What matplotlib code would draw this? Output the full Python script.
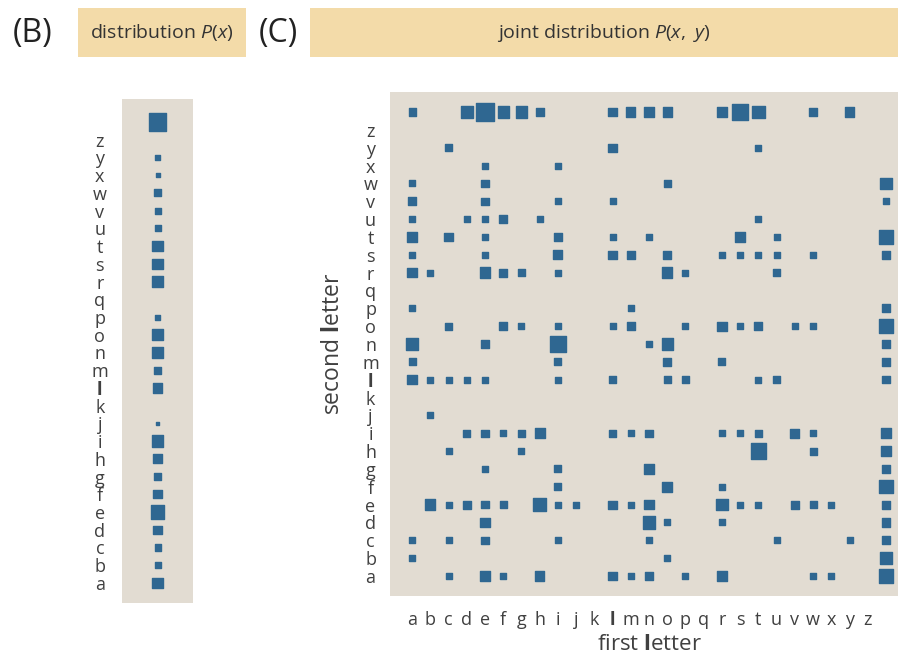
import numpy as np
import matplotlib
matplotlib.use("Agg")
import matplotlib.pyplot as plt
from matplotlib.patches import Rectangle

plt.rcParams['font.family'] = ['Open Sans', 'DejaVu Sans']
plt.rcParams['mathtext.fontset'] = 'custom'
plt.rcParams['mathtext.it'] = 'Open Sans:italic'
plt.rcParams['mathtext.rm'] = 'Open Sans'
plt.rcParams['mathtext.bf'] = 'Open Sans:bold'

# alphabet: a..z then the space character
ALPHABET = list("abcdefghijklmnopqrstuvwxyz") + [" "]
TICK_LETTERS = list("abcdefghijklmnopqrstuvwxyz")

# single letter frequencies, per 10,000 characters (same order as ALPHABET)
marginal_freq = [720, 291, 291, 482, 1166, 482, 381, 595, 857, 95, 0, 595, 381,
                 720, 857, 214, 0, 720, 720, 720, 291, 291, 381, 149, 214, 0, 1927]

# bigram frequencies, per 10,000 pairs; pair = first letter + second letter
bigram_pairs = [
    "a ", "d ", "e ", "f ", "g ", "h ", "l ", "m ", "n ", "o ", "r ", "s ", "t ", "w ", "y ",
    "cy", "ly", "ty",
    "ex", "ix",
    "aw", "ew", "ow", " w",
    "av", "ev", "iv", "lv", " v",
    "au", "du", "eu", "fu", "hu", "tu",
    "at", "ct", "et", "it", "lt", "nt", "st", "ut", " t",
    "as", "es", "is", "ls", "ms", "os", "rs", "ss", "ts", "us", "ws", " s",
    "ar", "br", "er", "fr", "gr", "ir", "or", "pr", "ur",
    "ap", "mp", " p",
    "co", "fo", "go", "io", "lo", "mo", "po", "ro", "so", "to", "vo", "wo", " o",
    "an", "en", "in", "nn", "on", " n",
    "am", "im", "om", "rm", " m",
    "al", "bl", "cl", "dl", "el", "il", "ll", "ol", "pl", "tl", "ul", " l",
    "bj",
    "di", "ei", "fi", "gi", "hi", "li", "mi", "ni", "ri", "si", "ti", "vi", "wi", " i",
    "ch", "gh", "th", "wh", " h",
    "eg", "ig", "ng", " g",
    "if", "of", "rf", " f",
    "be", "ce", "de", "ee", "fe", "he", "ie", "je", "le", "me", "ne", "re", "se", "te",
    "ve", "we", "xe", " e",
    "ed", "nd", "od", "rd", " d",
    "ac", "cc", "ec", "ic", "nc", "uc", "yc", " c",
    "ab", "ob", " b",
    "ca", "ea", "fa", "ha", "la", "ma", "na", "pa", "ra", "wa", "xa", " a",
]
bigram_freq = [
    71, 187, 359, 160, 160, 90, 90, 111, 134, 111, 111, 284, 187, 90, 111,
    71, 90, 54,
    54, 54,
    54, 71, 71, 160,
    90, 71, 54, 54, 54,
    54, 54, 54, 90, 54, 54,
    111, 90, 54, 90, 54, 54, 134, 54, 249,
    54, 54, 111, 90, 90, 90, 54, 54, 54, 54, 54, 90,
    111, 54, 134, 90, 71, 54, 134, 54, 71,
    54, 54, 90,
    71, 90, 54, 54, 54, 90, 54, 111, 54, 90, 54, 54, 249,
    187, 90, 284, 54, 160, 71,
    71, 71, 90, 71, 90,
    111, 54, 54, 54, 54, 54, 71, 71, 71, 54, 71, 71,
    54,
    71, 71, 54, 71, 134, 71, 54, 71, 54, 54, 71, 111, 54, 134,
    54, 54, 284, 71, 111,
    54, 71, 134, 90,
    71, 134, 54, 217,
    134, 54, 90, 71, 71, 187, 54, 54, 90, 54, 111, 160, 54, 54,
    90, 71, 54, 90,
    111, 187, 54, 54, 90,
    54, 54, 71, 54, 54, 54, 54, 90,
    54, 54, 160,
    54, 111, 54, 111, 90, 54, 90, 54, 111, 54, 54, 249,
]

SQUARE = '#2f6791'
PANEL = '#e2dcd2'
HEADER = '#f3dba9'
INK = '#404040'
LW = 1.0


def square_sizes(side_px):
    # scatter wants points^2; the rounded edge adds LW to the side
    pts = side_px * 1.06 * 72 / 100.0
    return np.maximum(pts - LW, 0.5) ** 2


def bold_l(ticklabels):
    for t in ticklabels:
        if t.get_text() == "l":
            t.set_fontweight('bold')


fig = plt.figure(figsize=(8.98, 6.59), dpi=100)

# header boxes
fig.patches.append(Rectangle((0.0869, 0.9135), 0.187, 0.0744, transform=fig.transFigure,
                             facecolor=HEADER, edgecolor='none'))
fig.patches.append(Rectangle((0.3452, 0.9135), 0.6548, 0.0744, transform=fig.transFigure,
                             facecolor=HEADER, edgecolor='none'))
fig.text(0.036, 0.949, "(B)", fontsize=23, color='#222222', ha='center', va='center')
fig.text(0.310, 0.949, "(C)", fontsize=23, color='#222222', ha='center', va='center')
fig.text(0.1804, 0.95, r"distribution $\mathit{P(x)}$", fontsize=14, color='#333333',
         ha='center', va='center')
fig.text(0.6726, 0.95, r"joint distribution $\mathit{P(x,\ y)}$", fontsize=14,
         color='#333333', ha='center', va='center')

# marginal panel
ax_b = fig.add_axes([0.1359, 0.085, 0.0791, 0.7648])
ax_b.set_facecolor(PANEL)
ys = np.arange(len(ALPHABET))
p = np.array(marginal_freq, dtype=float)
keep = p > 0
side = 41 * np.sqrt(p[keep] / 1e4)
ax_b.scatter(np.zeros(keep.sum()), ys[keep], s=square_sizes(side), marker='s',
             color=SQUARE, edgecolors=SQUARE, linewidths=LW, joinstyle='round')
ax_b.set_xlim(-1, 1)
ax_b.set_ylim(-1.13, 27.3)
ax_b.set_xticks([])
ax_b.set_yticks(range(26))
ax_b.set_yticklabels(TICK_LETTERS, ha='center', fontsize=13, color=INK)
bold_l(ax_b.get_yticklabels())
ax_b.tick_params(axis='y', length=0, pad=16)
for s in ax_b.spines.values():
    s.set_visible(False)

# joint panel
ax_c = fig.add_axes([0.4343, 0.0956, 0.5657, 0.7648])
ax_c.set_facecolor(PANEL)
fx = np.array([ALPHABET.index(b[0]) for b in bigram_pairs])
sy = np.array([ALPHABET.index(b[1]) for b in bigram_pairs])
f = np.array(bigram_freq, dtype=float)
side = 95 * np.sqrt(f / 1e4)
ax_c.scatter(fx, sy, s=square_sizes(side), marker='s', color=SQUARE, edgecolors=SQUARE,
             linewidths=LW, joinstyle='round')
ax_c.set_xlim(-1.21, 26.66)
ax_c.set_ylim(-1.12, 27.12)
ax_c.set_xticks(range(26))
ax_c.set_xticklabels(TICK_LETTERS, fontsize=13, color=INK)
ax_c.set_yticks(range(26))
ax_c.set_yticklabels(TICK_LETTERS, ha='center', fontsize=13, color=INK)
bold_l(ax_c.get_xticklabels())
bold_l(ax_c.get_yticklabels())
ax_c.tick_params(axis='y', length=0, pad=14)
ax_c.tick_params(axis='x', length=0, pad=11)
for s in ax_c.spines.values():
    s.set_visible(False)
ax_c.set_xlabel(r"first $\mathbf{l}$etter", fontsize=16, color=INK)
ax_c.set_ylabel(r"second $\mathbf{l}$etter", fontsize=16.5, color=INK)
ax_c.xaxis.set_label_coords(0.51, -0.075)
ax_c.yaxis.set_label_coords(-0.088, 0.5)

fig.savefig("out.png", dpi=100)
